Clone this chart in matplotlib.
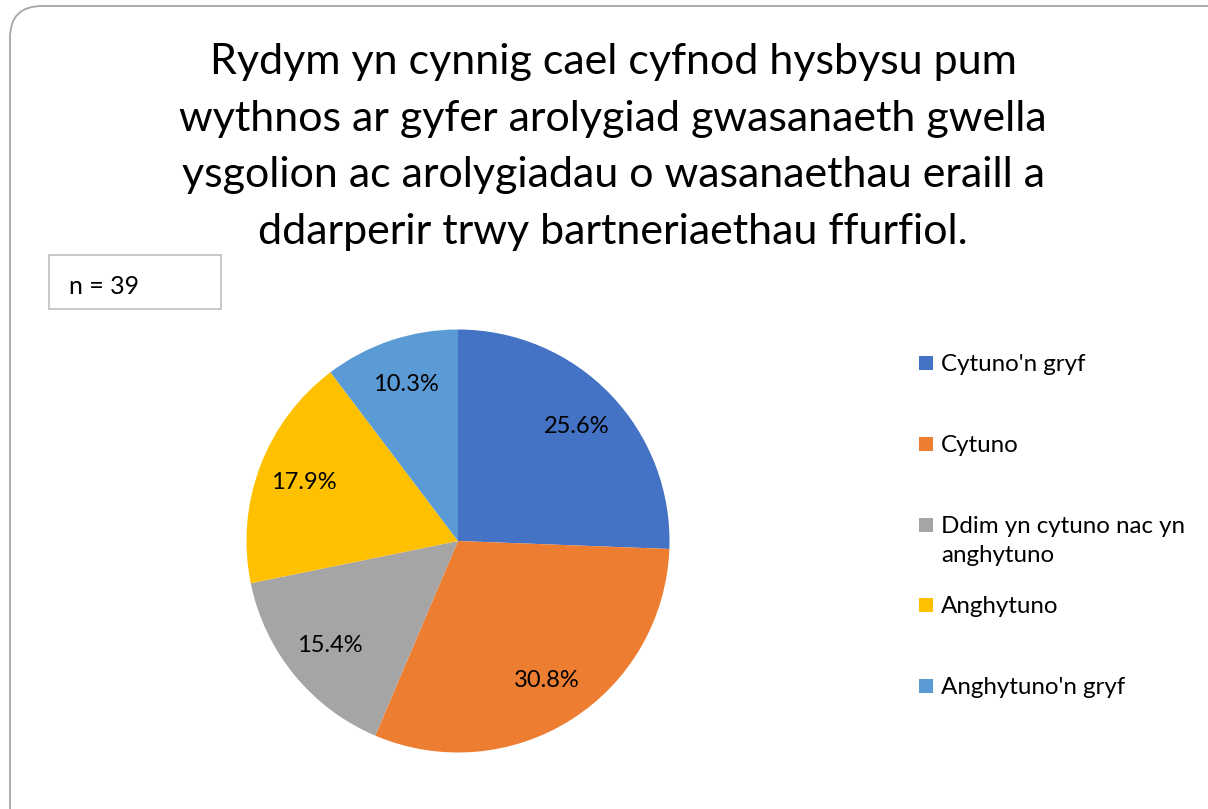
"""Pie chart: responses on a five-week notice period for inspections (n = 39)."""

import matplotlib.pyplot as plt
from matplotlib.patches import FancyBboxPatch, Rectangle

plt.rcParams["font.family"] = ["Lato", "DejaVu Sans"]

TITLE = ("Rydym yn cynnig cael cyfnod hysbysu pum\n"
         "wythnos ar gyfer arolygiad gwasanaeth gwella\n"
         "ysgolion ac arolygiadau o wasanaethau eraill a\n"
         "ddarperir trwy bartneriaethau ffurfiol.")
N_LABEL = "n = 39"

categories = ["Cytuno'n gryf", "Cytuno", "Ddim yn cytuno nac yn\nanghytuno",
              "Anghytuno", "Anghytuno'n gryf"]
shares = [25.6, 30.8, 15.4, 17.9, 10.3]
colors = ["#4472C4", "#ED7D31", "#A5A5A5", "#FFC000", "#5B9BD5"]

W, H = 1208, 809
fig = plt.figure(figsize=(W / 100, H / 100), dpi=100)

# rounded outer frame (pixel coordinates)
frame = FancyBboxPatch((10, -30), 1230, H - 6 + 30,
                       boxstyle="round,pad=0,rounding_size=32",
                       transform=None, facecolor="none",
                       edgecolor="#A6A6A6", linewidth=1.3, zorder=0)
fig.patches.append(frame)

fig.text(613 / W, 1 - 43 / H, TITLE, ha="center", va="top",
         fontsize=31, linespacing=1.6, color="black")

# n = 39 box
nbox = Rectangle((49 / W, 1 - 309 / H), 172 / W, 54 / H,
                 transform=fig.transFigure, facecolor="none",
                 edgecolor="#BFBFBF", linewidth=1.2)
fig.patches.append(nbox)
fig.text(69 / W, 1 - 286 / H, N_LABEL, ha="left", va="center", fontsize=18)

# pie
cx, cy, r = 458, 541, 211.5
ax = fig.add_axes([(cx - r) / W, (H - cy - r) / H, 2 * r / W, 2 * r / H])
wedges, _, autotexts = ax.pie(shares, colors=colors, startangle=90,
                              counterclock=False, autopct="%.1f%%",
                              pctdistance=0.78,
                              textprops={"fontsize": 17, "color": "black"})
ax.set_xlim(-1, 1)
ax.set_ylim(-1, 1)
ax.set_aspect("equal")
ax.axis("off")

# legend, drawn entry by entry to match spacing
leg_y = [363, 444, 525, 605, 686]
for label, col, y in zip(categories, colors, leg_y):
    fig.patches.append(Rectangle((919 / W, 1 - (y + 7) / H), 14 / W, 14 / H,
                                 transform=fig.transFigure,
                                 facecolor=col, edgecolor="none"))
    fig.text(941 / W, 1 - (y - 9) / H, label, ha="left", va="top",
             fontsize=17.4, linespacing=1.5)

fig.savefig("out.png", dpi=100)
